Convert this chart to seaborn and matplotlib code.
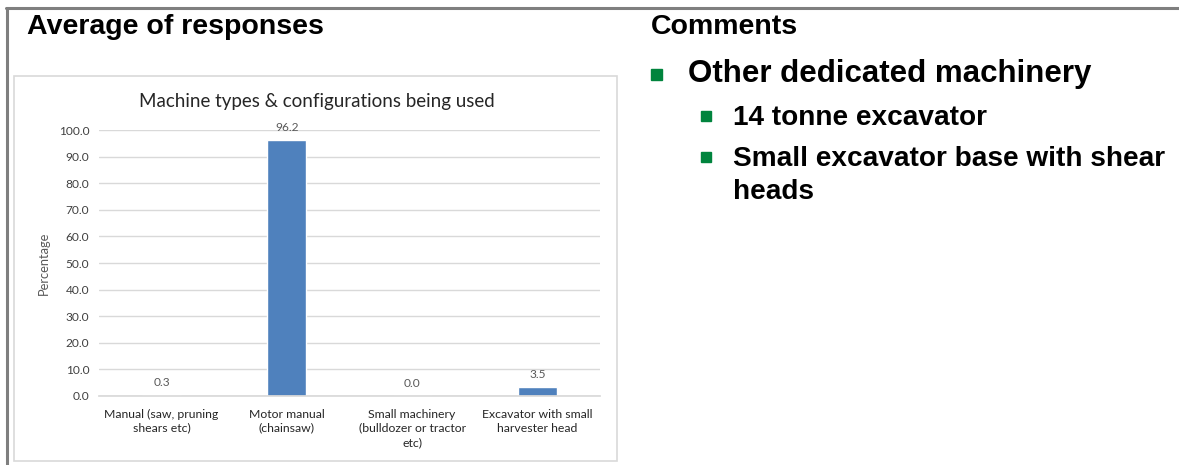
import matplotlib
matplotlib.use("Agg")
import matplotlib.pyplot as plt
from matplotlib.patches import Rectangle
from matplotlib.lines import Line2D
import seaborn as sns
import pandas as pd

categories = [
    "Manual (saw, pruning\nshears etc)",
    "Motor manual\n(chainsaw)",
    "Small machinery\n(bulldozer or tractor\netc)",
    "Excavator with small\nharvester head",
]
percentages = [0.3, 96.2, 0.0, 3.5]
yticks = [0, 10, 20, 30, 40, 50, 60, 70, 80, 90, 100]

comment_heading = "Comments"
comment_main = "Other dedicated machinery"
comment_subs = ["14 tonne excavator", "Small excavator base with shear\nheads"]

sns.set_theme(style="white")
plt.rcParams["font.family"] = ["Lato", "DejaVu Sans"]

W, H = 1179, 465
fig = plt.figure(figsize=(W / 100, H / 100), dpi=100)

def px(x, y):
    return x / W, 1 - y / H

# slide frame lines
fig.add_artist(Line2D([6 / W, 1], [1 - 8.5 / H] * 2, color="#7f7f7f", lw=2.2, transform=fig.transFigure))
fig.add_artist(Line2D([6.5 / W] * 2, [0, 1 - 8.5 / H], color="#7f7f7f", lw=2.2, transform=fig.transFigure))

# chart container
x0, y0 = px(14, 461)
x1, y1 = px(617, 76)
fig.add_artist(Rectangle((x0, y0), x1 - x0, y1 - y0, transform=fig.transFigure,
                         fill=False, edgecolor="#d9d9d9", lw=1.2))

# headings
fig.text(*px(27, 27), "Average of responses", family="Liberation Sans", weight="bold",
         fontsize=20.5, color="black", va="center", ha="left")
fig.text(*px(651, 27), comment_heading, family="Liberation Sans", weight="bold",
         fontsize=20.5, color="black", va="center", ha="left")

# bullet list
green = "#00843d"
bx, by = px(651, 80)
fig.add_artist(Rectangle((bx, by), 11 / W, 11 / H, transform=fig.transFigure, color=green))
fig.text(*px(688, 74), comment_main, family="Liberation Sans", weight="bold",
         fontsize=22.5, color="black", va="center", ha="left")
for (yy, txt) in zip([116, 157], comment_subs):
    sx, sy = px(701, yy + 5)
    fig.add_artist(Rectangle((sx, sy), 10 / W, 10 / H, transform=fig.transFigure, color=green))
    fig.text(*px(733, yy - 11), txt, family="Liberation Sans", weight="bold",
             fontsize=20.2, color="black", va="top", ha="left", linespacing=1.33)

# bar chart
left, bottom = px(99, 396)
right, top = px(600, 130)
ax = fig.add_axes([left, bottom, right - left, top - bottom])
df = pd.DataFrame({"category": categories, "pct": percentages})
sns.barplot(data=df, x="category", y="pct", color="#4f81bd", saturation=1,
            width=0.31, ax=ax)
ax.set_ylim(0, 100)
ax.set_yticks(yticks)
ax.set_yticklabels([f"{v:.1f}" for v in yticks], fontsize=8.6, color="#404040")
ax.yaxis.grid(True, color="#d9d9d9", lw=1)
ax.set_axisbelow(True)
for s in ["top", "right", "left"]:
    ax.spines[s].set_visible(False)
ax.spines["bottom"].set_color("#d9d9d9")
ax.tick_params(axis="both", length=0, pad=7)
ax.tick_params(axis="x", pad=9)
ax.set_xticks(range(len(categories)))
ax.set_xticklabels(categories, fontsize=8.8, color="#262626", linespacing=1.35, va="top")
ax.set_xlabel("")
ax.set_ylabel("Percentage", fontsize=9.3, color="#595959", labelpad=6)
for container in ax.containers:
    ax.bar_label(container, labels=[f"{v:.1f}" for v in percentages], padding=5,
                 fontsize=8.6, color="#595959")

# chart title centred over the whole chart container
fig.text(*px(317, 101), "Machine types & configurations being used", fontsize=13.5,
         color="#262626", ha="center", va="center")

fig.savefig("out.png", dpi=100)
